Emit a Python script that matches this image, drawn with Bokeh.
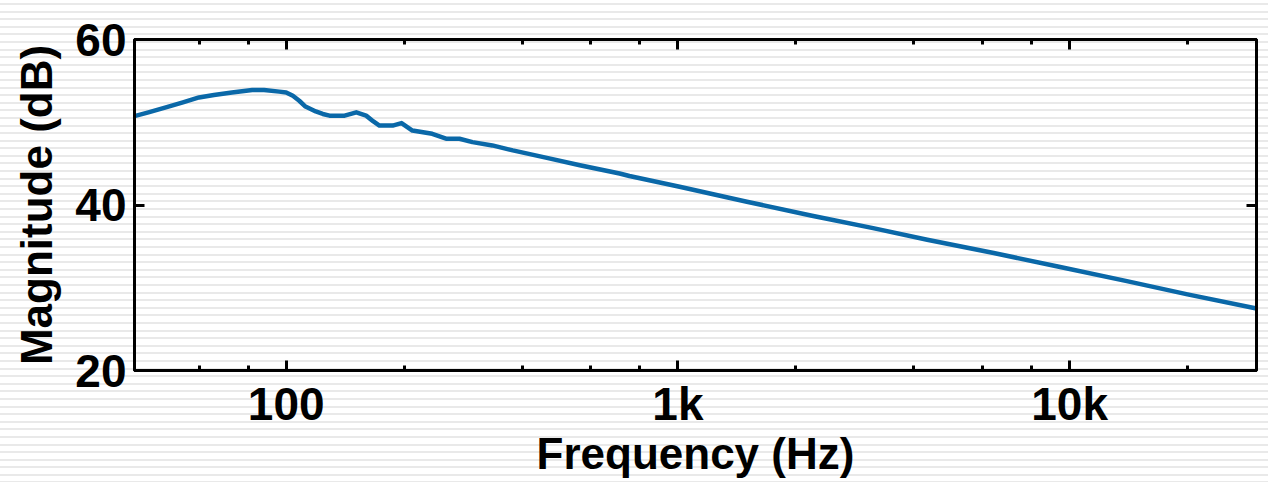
from bokeh.plotting import figure
from bokeh.models import (Range1d, LogAxis, LinearAxis, LogTicker, SingleIntervalTicker,
                          CustomJSTickFormatter, ColumnDataSource)
from bokeh.embed import file_html
from bokeh.resources import INLINE

# ---- data ----
freq_hz = [40.7, 44.5, 49.3, 54.5, 59.9, 65.4, 72.7, 81.9, 87.8, 96, 100, 104, 108, 112,
           119, 124, 129, 141, 151, 160, 167, 173, 187, 197, 210, 236, 257, 277, 299, 336,
           379, 463, 562, 710, 752, 1010, 1500, 2200, 3150, 4330, 6400, 9460, 14000,
           20000, 30000]
magnitude_db = [50.7, 51.2, 51.8, 52.4, 53.0, 53.3, 53.6, 53.9, 53.9, 53.7, 53.6, 53.2,
                52.6, 51.9, 51.3, 51.0, 50.8, 50.8, 51.2, 50.8, 50.1, 49.6, 49.6, 49.9,
                49.0, 48.6, 48.0, 48.0, 47.6, 47.2, 46.6, 45.7, 44.8, 43.8, 43.5, 42.2,
                40.4, 38.7, 37.2, 35.8, 34.2, 32.5, 30.8, 29.2, 27.5]
x_limits = [41, 30000]
y_limits = [20, 60]
y_tick_step = 20

FONT = "Liberation Sans"

src = ColumnDataSource(data=dict(f=freq_hz, m=magnitude_db))

p = figure(width=1268, height=482, x_axis_type="log",
           x_range=Range1d(*x_limits), y_range=Range1d(*y_limits),
           output_backend="svg", toolbar_location=None,
           min_border_left=134, min_border_right=12, min_border_top=39, min_border_bottom=112)

p.background_fill_color = None
p.border_fill_color = None
p.styles = {"background-image": "repeating-linear-gradient(to bottom, #ffffff 0px, #ffffff 3px, "
                                 "#e9e9e9 3px, #e9e9e9 5px, #ffffff 5px, #ffffff 7.595px)"}

p.outline_line_color = "black"
p.outline_line_width = 3
p.xgrid.visible = False
p.ygrid.visible = False

p.line("f", "m", source=src, line_color="#0a68a8", line_width=4.5, line_join="round")

xticker = LogTicker(mantissas=[1], desired_num_ticks=3)
yticker = SingleIntervalTicker(interval=y_tick_step, num_minor_ticks=0)
xfmt = CustomJSTickFormatter(code="return tick >= 1000 ? (tick/1000).toString() + 'k' : tick.toString();")
blank = CustomJSTickFormatter(code="return '';")

def style(ax, labels=True, minor=True):
    ax.axis_line_width = 3
    ax.axis_line_color = "black"
    ax.major_tick_in = 10
    ax.major_tick_out = 0
    ax.major_tick_line_width = 3
    ax.major_tick_line_color = "black"
    ax.minor_tick_in = 5 if minor else 0
    ax.minor_tick_out = 0
    ax.minor_tick_line_width = 3
    ax.minor_tick_line_color = "black" if minor else None
    ax.major_label_text_font = FONT
    ax.major_label_text_font_style = "bold"
    ax.major_label_text_color = "black"
    if labels:
        ax.major_label_text_font_size = "46px"
    else:
        ax.major_label_text_font_size = "0px"
        ax.major_label_standoff = 0

xa = p.xaxis[0]
xa.ticker = xticker
xa.formatter = xfmt
style(xa)
xa.major_label_standoff = 7
xa.axis_label = "Frequency (Hz)"
xa.axis_label_text_font = FONT
xa.axis_label_text_font_style = "bold"
xa.axis_label_text_font_size = "44px"
xa.axis_label_text_color = "black"
xa.axis_label_standoff = -4

ya = p.yaxis[0]
ya.ticker = yticker
style(ya, minor=False)
ya.major_label_standoff = 8
ya.axis_label = "Magnitude (dB)"
ya.axis_label_text_font = FONT
ya.axis_label_text_font_style = "bold"
ya.axis_label_text_font_size = "44px"
ya.axis_label_text_color = "black"
ya.axis_label_standoff = 11

top = LogAxis(ticker=xticker, formatter=blank)
style(top, labels=False)
p.add_layout(top, "above")

right = LinearAxis(ticker=yticker, formatter=blank)
style(right, labels=False, minor=False)
p.add_layout(right, "right")

open("out.html", "w").write(file_html(p, INLINE))
